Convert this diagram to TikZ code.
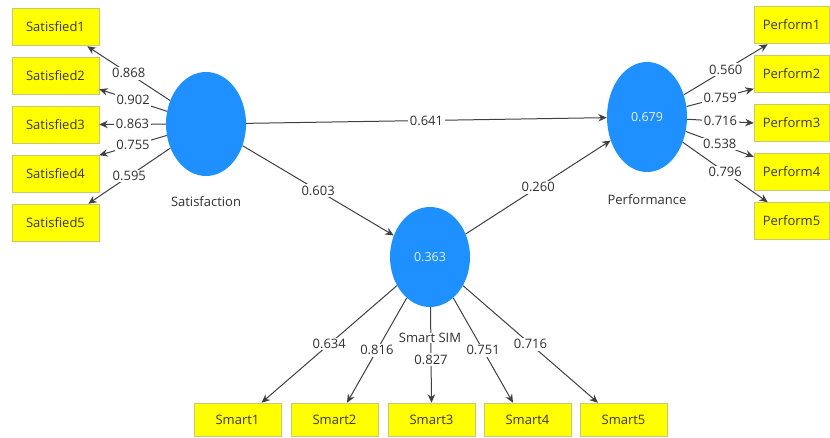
\documentclass[tikz,border=0pt]{standalone}
\usepackage{fontspec}
\setmainfont{Open Sans}
\usetikzlibrary{shapes.geometric,arrows.meta}
\definecolor{lvblue}{HTML}{1E90FF}
\definecolor{boxyellow}{HTML}{FFFF00}
\definecolor{boxedge}{HTML}{C8C870}
\definecolor{txtgray}{HTML}{303030}
\definecolor{linegray}{HTML}{404040}
\begin{document}
\begin{tikzpicture}[x=1pt,y=-1pt,
  latent/.style={ellipse, fill=lvblue, draw=none, minimum width=80pt, minimum height=104pt, inner sep=0pt, text=white!88!lvblue, font=\fontsize{12.5}{14}\selectfont},
  indbox/.style={rectangle, fill=boxyellow, draw=boxedge, line width=0.5pt, minimum width=87pt, minimum height=37pt, inner sep=0pt, text=black!88!yellow, font=\fontsize{13}{15}\selectfont},
  pbox/.style={indbox, minimum width=75pt},
  mbox/.style={indbox, minimum height=33pt},
  lvname/.style={text=txtgray, font=\fontsize{13}{15}\selectfont},
  coef/.style={fill=white, inner sep=1.5pt, text=txtgray, font=\fontsize{13}{15}\selectfont},
  conn/.style={draw=linegray, line width=1pt, -{Stealth[length=8.5pt,width=7.5pt]}}
]
\useasboundingbox (0,0) rectangle (830,438);
% latent variables
\node[latent] (sat) at (206,124) {};
\node[latent, minimum height=110pt] (perf) at (647,117) {0.679};
\node[latent, minimum height=100pt] (sim) at (430,257) {0.363};
\node[lvname] (satl) at (206,202) {Satisfaction};
\node[lvname] (perfl) at (647,200) {Performance};
% indicators left
\node[indbox] (s1) at (55.5,26.5) {Satisfied1};
\node[indbox] (s2) at (55.5,75.5) {Satisfied2};
\node[indbox] (s3) at (55.5,124.5) {Satisfied3};
\node[indbox] (s4) at (55.5,174) {Satisfied4};
\node[indbox] (s5) at (55.5,222.5) {Satisfied5};
% indicators right
\node[pbox] (p1) at (791.5,24.5) {Perform1};
\node[pbox] (p2) at (791.5,74) {Perform2};
\node[pbox] (p3) at (791.5,123) {Perform3};
\node[pbox] (p4) at (791.5,171.5) {Perform4};
\node[pbox] (p5) at (791.5,221) {Perform5};
% indicators bottom
\node[mbox] (m1) at (237.5,419.5) {Smart1};
\node[mbox] (m2) at (334.5,419.5) {Smart2};
\node[mbox] (m3) at (431.5,419.5) {Smart3};
\node[mbox] (m4) at (527.5,419.5) {Smart4};
\node[mbox] (m5) at (623.5,419.5) {Smart5};
% structural paths
\draw[conn] (sat) -- node[coef, pos=0.5] {0.641} (perf);
\draw[conn] (sat) -- node[coef, pos=0.5] {0.603} (sim);
\draw[conn] (sim) -- node[coef, pos=0.5] {0.260} (perf);
% loadings Satisfaction
\draw[conn] (sat) -- node[coef] {0.868} ([xshift=-12pt,yshift=-1pt]s1.south east);
\draw[conn] (sat) -- node[coef] {0.902} ([yshift=5pt]s2.south east);
\draw[conn] (sat) -- node[coef] {0.863} (s3.east);
\draw[conn] (sat) -- node[coef] {0.755} (s4.north east);
\draw[conn] (sat) -- node[coef] {0.595} ([xshift=-11pt]s5.north east);
% loadings Performance
\draw[conn] (perf) -- node[coef] {0.560} ([xshift=14pt,yshift=-1pt]p1.south west);
\draw[conn] (perf) -- node[coef] {0.759} ([yshift=4pt]p2.south west);
\draw[conn] (perf) -- node[coef] {0.716} (p3.west);
\draw[conn] (perf) -- node[coef] {0.538} ([yshift=-4pt]p4.north west);
\draw[conn] (perf) -- node[coef] {0.796} ([xshift=14pt]p5.north west);
% loadings Smart SIM
\draw[conn] (sim) -- node[coef] {0.634} ([xshift=24pt]m1.north);
\draw[conn] (sim) -- node[coef] {0.816} ([xshift=12.5pt]m2.north);
\draw[conn] (sim) -- node[coef, pos=0.55] {0.827} (m3.north);
\draw[conn] (sim) -- node[coef] {0.751} ([xshift=-14.5pt]m4.north);
\draw[conn] (sim) -- node[coef] {0.716} ([xshift=-25.5pt]m5.north);
\node[lvname, fill=white, inner sep=0.5pt] (siml) at (430,338) {Smart SIM};
\end{tikzpicture}
\end{document}
